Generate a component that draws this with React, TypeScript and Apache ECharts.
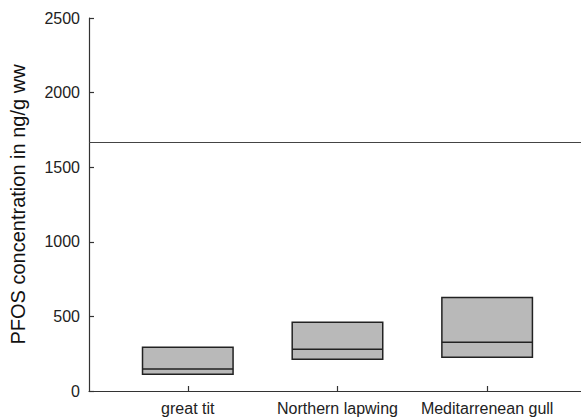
import React, { useEffect, useRef } from "react";
import * as echarts from "echarts";

const categories = ["great tit", "Northern lapwing", "Meditarrenean gull"];
const positions = [1, 2, 3];
const q1 = [113, 213, 227];
const medians = [147, 280, 327];
const q3 = [293, 460, 627];
const referenceLine = 1667;
const yTicks = [0, 500, 1000, 1500, 2000, 2500];

export default function App() {
  const ref = useRef<HTMLDivElement>(null);
  useEffect(() => {
    if (!ref.current) return;
    const chart = echarts.init(ref.current, undefined, { renderer: "svg" });
    const data = positions.map((p, i) => [p, q1[i], medians[i], q3[i]]);
    const font = "'Liberation Sans', Arial, sans-serif";
    chart.setOption({
      animation: false,
      grid: { left: 88, right: 0, top: 18, bottom: 29 },
      xAxis: {
        type: "value",
        min: 0.34,
        max: 3.627,
        axisLine: { show: true, lineStyle: { color: "#333", width: 1.2 } },
        splitLine: { show: false },
        axisTick: {
          show: true,
          inside: true,
          length: 5,
          customValues: positions,
          lineStyle: { color: "#333", width: 1.2 },
        },
        axisLabel: {
          customValues: positions,
          formatter: (v: number) => categories[Math.round(v) - 1] ?? "",
          color: "#222",
          fontSize: 16,
          fontFamily: font,
          margin: 9,
        },
      },
      yAxis: {
        type: "value",
        min: 0,
        max: 2500,
        interval: 500,
        name: "PFOS concentration in ng/g ww",
        nameLocation: "middle",
        nameGap: 61,
        nameTextStyle: { color: "#111", fontSize: 20, fontFamily: font },
        axisLine: { show: true, lineStyle: { color: "#333", width: 1.2 } },
        splitLine: { show: false },
        axisTick: { show: true, inside: true, length: 5, lineStyle: { color: "#333", width: 1.2 } },
        axisLabel: {
          color: "#222",
          fontSize: 16,
          fontFamily: font,
          margin: 9,
          customValues: yTicks,
          formatter: (v: number) => String(v),
        },
      },
      series: [
        {
          type: "custom",
          data,
          encode: { x: 0, y: [1, 2, 3] },
          renderItem: (params: any, api: any) => {
            const x = api.value(0);
            const lo = api.coord([x, api.value(1)]);
            const med = api.coord([x, api.value(2)]);
            const hi = api.coord([x, api.value(3)]);
            const w = api.size([0.605, 0])[0];
            return {
              type: "group",
              children: [
                {
                  type: "rect",
                  shape: { x: lo[0] - w / 2, y: hi[1], width: w, height: lo[1] - hi[1] },
                  style: { fill: "#b9b9b9", stroke: "#222", lineWidth: 1.5 },
                },
                {
                  type: "line",
                  shape: { x1: lo[0] - w / 2, y1: med[1], x2: lo[0] + w / 2, y2: med[1] },
                  style: { stroke: "#222", lineWidth: 1.5 },
                },
              ],
            };
          },
          markLine: {
            silent: true,
            symbol: "none",
            label: { show: false },
            lineStyle: { color: "#444", width: 1.2, type: "solid" },
            data: [{ yAxis: referenceLine }],
          },
        },
      ],
    });
    return () => chart.dispose();
  }, []);
  return <div ref={ref} style={{ width: 581, height: 420, position: "absolute", left: 0, top: 0 }} />;
}
